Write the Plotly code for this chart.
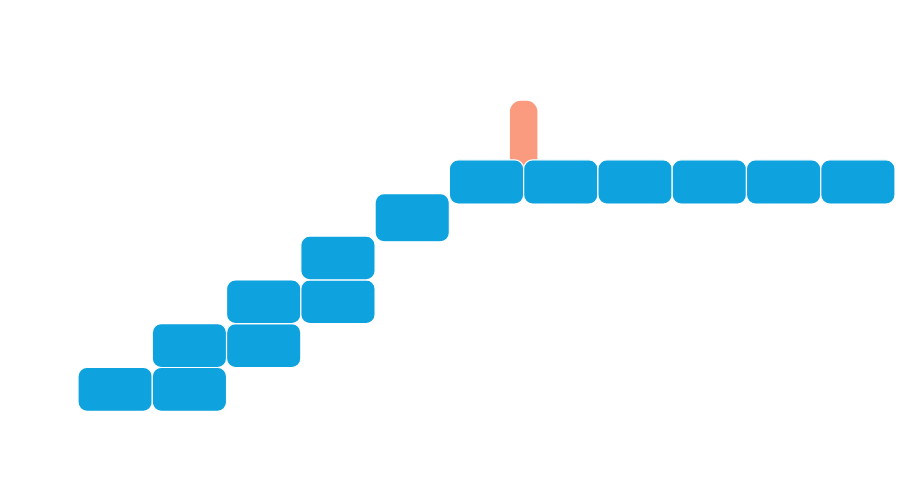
import plotly.graph_objects as go

# blue blocks: column index, bottom and top of each block
block_col = [0, 1, 1, 2, 2, 3, 3, 4, 5, 6, 7, 8, 9, 10]
block_low = [0, 0, 1, 1, 2, 2, 3, 3.87, 4.73, 4.73, 4.73, 4.73, 4.73, 4.73]
block_high = [1, 1, 2, 2, 3, 3, 4, 4.97, 5.74, 5.74, 5.74, 5.74, 5.74, 5.74]

# orange marker sitting between columns 5 and 6
marker_col = [5.5]
marker_low = [5.0]
marker_high = [7.09]

BLUE = "#0ea2de"
ORANGE = "#fa9a7e"

fig = go.Figure()

fig.add_trace(go.Bar(
    x=marker_col,
    y=[h - l for l, h in zip(marker_low, marker_high)],
    base=marker_low,
    width=0.37,
    marker=dict(color=ORANGE, line=dict(width=0), cornerradius=11),
    hoverinfo="skip",
))

fig.add_trace(go.Bar(
    x=block_col,
    y=[h - l for l, h in zip(block_low, block_high)],
    base=block_low,
    width=1,
    marker=dict(color=BLUE, line=dict(color="white", width=1.2), cornerradius=9),
    hoverinfo="skip",
))

fig.update_layout(
    width=900, height=491,
    barmode="overlay",
    showlegend=False,
    paper_bgcolor="white",
    plot_bgcolor="white",
    margin=dict(l=78, r=5, t=0, b=0),
    xaxis=dict(range=[-0.5, 10.5], visible=False, showgrid=False, zeroline=False),
    yaxis=dict(range=[-1.82, 9.39], visible=False, showgrid=False, zeroline=False),
)

# drop the default page margin so the figure sits flush in the window
fig.write_html(
    "out.html",
    config={"displayModeBar": False},
    post_script="document.body.style.margin='0';document.body.style.overflow='hidden';",
)
